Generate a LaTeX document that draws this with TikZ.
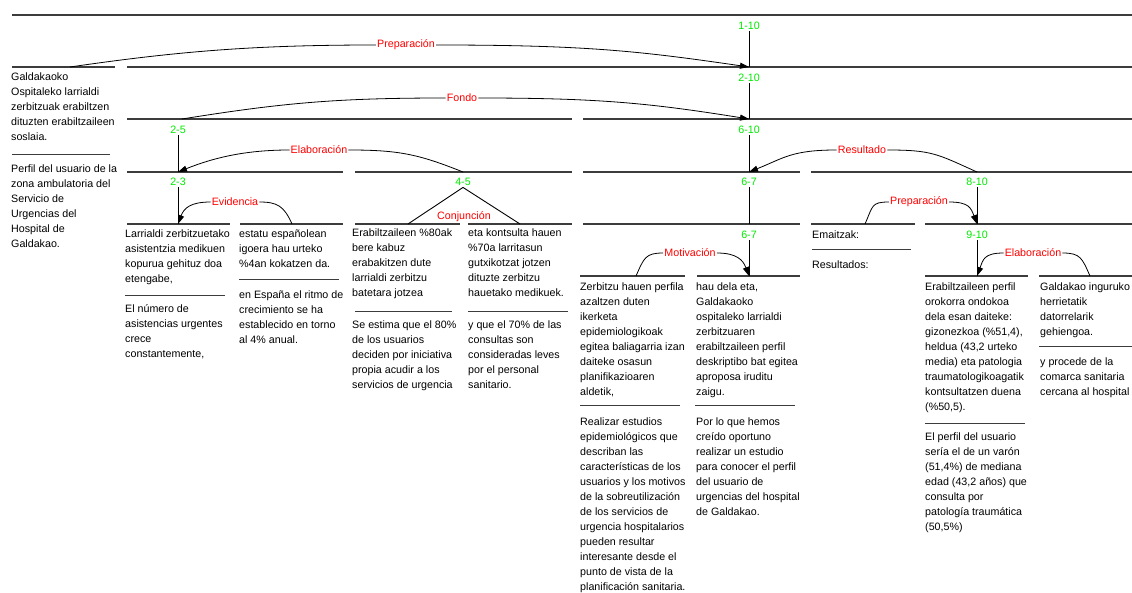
\documentclass[tikz,border=0pt]{standalone}
\usepackage{fontspec}
\setmainfont{Liberation Sans}
\usetikzlibrary{arrows.meta}
\definecolor{spangreen}{RGB}{0,235,0}
\definecolor{relred}{RGB}{255,0,0}
\definecolor{linegray}{RGB}{60,60,60}
\tikzset{
  txt/.style={anchor=north west, align=left, inner sep=0pt, font=\fontsize{10.7}{15}\selectfont},
  spanlab/.style={text=spangreen, inner sep=1.5pt, font=\fontsize{10.7}{13}\selectfont},
  rellab/.style={text=relred, inner sep=1pt, font=\fontsize{10.7}{13}\selectfont},
  bar/.style={draw=linegray, line width=1.2pt},
  sepline/.style={draw=linegray, line width=1pt},
  vline/.style={draw=black, line width=0.9pt},
  arcline/.style={draw=black, line width=0.8pt},
  arrline/.style={arcline, -{Triangle[length=9pt,width=6pt]}},
}
\begin{document}
\begin{tikzpicture}[x=1pt,y=-1pt]
\useasboundingbox (0,0) rectangle (1132,593);

% ---------- span bars ----------
\draw[bar] (12,15) -- (1132,15);
\draw[bar] (12,67) -- (115,67);
\draw[bar] (127,67) -- (1132,67);
\draw[bar] (127,119) -- (572,119);
\draw[bar] (583,119) -- (1132,119);
\draw[bar] (127,172) -- (343,172);
\draw[bar] (355,172) -- (572,172);
\draw[bar] (583,172) -- (800,172);
\draw[bar] (811,172) -- (1132,172);
\draw[bar] (127,224) -- (230,224);
\draw[bar] (240,224) -- (343,224);
\draw[bar] (355,224) -- (460,224);
\draw[bar] (468,224) -- (572,224);
\draw[bar] (583,224) -- (800,224);
\draw[bar] (811,224) -- (915,224);
\draw[bar] (925,224) -- (1132,224);
\draw[bar] (580,276) -- (685,276);
\draw[bar] (697,276) -- (800,276);
\draw[bar] (925,276) -- (1028,276);
\draw[bar] (1039,276) -- (1132,276);

% ---------- separators inside segments ----------
\draw[sepline] (12,155) -- (110,155);
\draw[sepline] (125,296) -- (225,296);
\draw[sepline] (239,280) -- (339,280);
\draw[sepline] (355,312) -- (452,312);
\draw[sepline] (468,312) -- (568,312);
\draw[sepline] (580,405) -- (680,405);
\draw[sepline] (695,405) -- (795,405);
\draw[sepline] (812,250) -- (911,250);
\draw[sepline] (925,423) -- (1025,423);
\draw[sepline] (1039,347) -- (1132,347);

% ---------- attachment coordinates ----------
\coordinate (b110) at (749,67);
\coordinate (b210) at (749,119);
\coordinate (b25) at (178,172);
\coordinate (b610) at (749,172);
\coordinate (b23) at (178,224);
\coordinate (b67a) at (749,224);
\coordinate (b810) at (977,224);
\coordinate (b67b) at (749,276);
\coordinate (b910) at (977,276);
\coordinate (c4) at (408,224);
\coordinate (c5) at (520,224);
\coordinate (src1) at (70,67);
\coordinate (src25) at (182,119);
\coordinate (src45) at (463,172);
\coordinate (src810) at (977,172);
\coordinate (src3) at (292,224);
\coordinate (src6) at (636,276);
\coordinate (src8) at (865,224);
\coordinate (src10) at (1090,276);

% ---------- span labels ----------
\node[spanlab] (s110) at (749,26) {1-10};
\node[spanlab] (s210) at (749,78) {2-10};
\node[spanlab] (s25) at (178,130) {2-5};
\node[spanlab] (s610) at (749,130) {6-10};
\node[spanlab] (s23) at (178,182) {2-3};
\node[spanlab] (s45) at (463,182) {4-5};
\node[spanlab] (s67a) at (749,182) {6-7};
\node[spanlab] (s810) at (977,182) {8-10};
\node[spanlab] (s67b) at (749,235) {6-7};
\node[spanlab] (s910) at (977,235) {9-10};

\draw[vline] (s110.south) -- (b110);
\draw[vline] (s210.south) -- (b210);
\draw[vline] (s25.south) -- (b25);
\draw[vline] (s610.south) -- (b610);
\draw[vline] (s23.south) -- (b23);
\draw[vline] (s67a.south) -- (b67a);
\draw[vline] (s810.south) -- (b810);
\draw[vline] (s67b.south) -- (b67b);
\draw[vline] (s910.south) -- (b910);
\draw[vline] (s45.south) -- (c4);
\draw[vline] (s45.south) -- (c5);

% ---------- relation labels ----------
\node[rellab] (rprep) at (406,45) {Preparación};
\node[rellab] (rfondo) at (462,98) {Fondo};
\node[rellab] (relab) at (319,150) {Elaboración};
\node[rellab] (rres) at (862,150) {Resultado};
\node[rellab] (revid) at (235,202) {Evidencia};
\node[rellab, fill=white] (rconj) at (464,217) {Conjunción};
\node[rellab] (rmotiv) at (690,253) {Motivación};
\node[rellab] (rprep2) at (919,202) {Preparación};
\node[rellab] (relab2) at (1033,253) {Elaboración};

% ---------- relation arcs ----------
\draw[arcline] (src1) .. controls +(110,-16) and +(-120,0) .. (rprep.west);
\draw[arrline] (rprep.east) .. controls +(150,0) and +(-110,-16) .. (b110);
\draw[arcline] (src25) .. controls +(100,-16) and +(-110,0) .. (rfondo.west);
\draw[arrline] (rfondo.east) .. controls +(120,0) and +(-100,-16) .. (b210);
\draw[arcline] (src45) .. controls +(-45,-18) and +(50,0) .. (relab.east);
\draw[arrline] (relab.west) .. controls +(-45,0) and +(35,-14) .. (b25);
\draw[arcline] (src810) .. controls +(-40,-18) and +(45,0) .. (rres.east);
\draw[arrline] (rres.west) .. controls +(-45,0) and +(35,-14) .. (b610);
\draw[arcline] (src3) .. controls +(-8,-18) and +(18,0) .. (revid.east);
\draw[arrline] (revid.west) .. controls +(-20,0) and +(6,-16) .. (b23);
\draw[arcline] (src6) .. controls +(8,-18) and +(-18,0) .. (rmotiv.west);
\draw[arrline] (rmotiv.east) .. controls +(20,0) and +(-6,-16) .. (b67b);
\draw[arcline] (src8) .. controls +(8,-18) and +(-18,0) .. (rprep2.west);
\draw[arrline] (rprep2.east) .. controls +(20,0) and +(-6,-16) .. (b810);
\draw[arcline] (src10) .. controls +(-8,-18) and +(18,0) .. (relab2.east);
\draw[arrline] (relab2.west) .. controls +(-20,0) and +(6,-16) .. (b910);

% ---------- segment texts ----------
\node[txt] (t1e) at (11,70) {\strut Galdakaoko\\Ospitaleko larrialdi\\zerbitzuak erabiltzen\\dituzten erabiltzaileen\\soslaia.};
\node[txt] (t1s) at (11,162) {\strut Perfil del usuario de la\\zona ambulatoria del\\Servicio de\\Urgencias del\\Hospital de\\Galdakao.};

\node[txt] (t2e) at (125,227) {\strut Larrialdi zerbitzuetako\\asistentzia medikuen\\kopurua gehituz doa\\etengabe,};
\node[txt] (t2s) at (125,302) {\strut El número de\\asistencias urgentes\\crece\\constantemente,};

\node[txt] (t3e) at (239,227) {\strut estatu españolean\\igoera hau urteko\\\%4an kokatzen da.};
\node[txt] (t3s) at (239,288) {\strut en España el ritmo de\\crecimiento se ha\\establecido en torno\\al 4\% anual.};

\node[txt] (t4e) at (352,226) {\strut Erabiltzaileen \%80ak\\bere kabuz\\erabakitzen dute\\larrialdi zerbitzu\\batetara jotzea};
\node[txt] (t4s) at (352,318) {\strut Se estima que el 80\%\\de los usuarios\\deciden por iniciativa\\propia acudir a los\\servicios de urgencia};

\node[txt] (t5e) at (468,226) {\strut eta kontsulta hauen\\\%70a larritasun\\gutxikotzat jotzen\\dituzte zerbitzu\\hauetako medikuek.};
\node[txt] (t5s) at (468,318) {\strut y que el 70\% de las\\consultas son\\consideradas leves\\por el personal\\sanitario.};

\node[txt] (t6e) at (580,280) {\strut Zerbitzu hauen perfila\\azaltzen duten\\ikerketa\\epidemiologikoak\\egitea baliagarria izan\\daiteke osasun\\planifikazioaren\\aldetik,};
\node[txt] (t6s) at (580,415) {\strut Realizar estudios\\epidemiológicos que\\describan las\\características de los\\usuarios y los motivos\\de la sobreutilización\\de los servicios de\\urgencia hospitalarios\\pueden resultar\\interesante desde el\\punto de vista de la\\planificación sanitaria.};

\node[txt] (t7e) at (696,280) {\strut hau dela eta,\\Galdakaoko\\ospitaleko larrialdi\\zerbitzuaren\\erabiltzaileen perfil\\deskriptibo bat egitea\\aproposa iruditu\\zaigu.};
\node[txt] (t7s) at (696,415) {\strut Por lo que hemos\\creído oportuno\\realizar un estudio\\para conocer el perfil\\del usuario de\\urgencias del hospital\\de Galdakao.};

\node[txt] (t8e) at (812,228) {\strut Emaitzak:};
\node[txt] (t8s) at (812,258) {\strut Resultados:};

\node[txt] (t9e) at (925,280) {\strut Erabiltzaileen perfil\\orokorra ondokoa\\dela esan daiteke:\\gizonezkoa (\%51,4),\\heldua (43,2 urteko\\media) eta patologia\\traumatologikoagatik\\kontsultatzen duena\\(\%50,5).};
\node[txt] (t9s) at (925,430) {\strut El perfil del usuario\\sería el de un varón\\(51,4\%) de mediana\\edad (43,2 años) que\\consulta por\\patología traumática\\(50,5\%)};

\node[txt] (t10e) at (1040,280) {\strut Galdakao inguruko\\herrietatik\\datorrelarik\\gehiengoa.};
\node[txt] (t10s) at (1040,355) {\strut y procede de la\\comarca sanitaria\\cercana al hospital};

\end{tikzpicture}
\end{document}
